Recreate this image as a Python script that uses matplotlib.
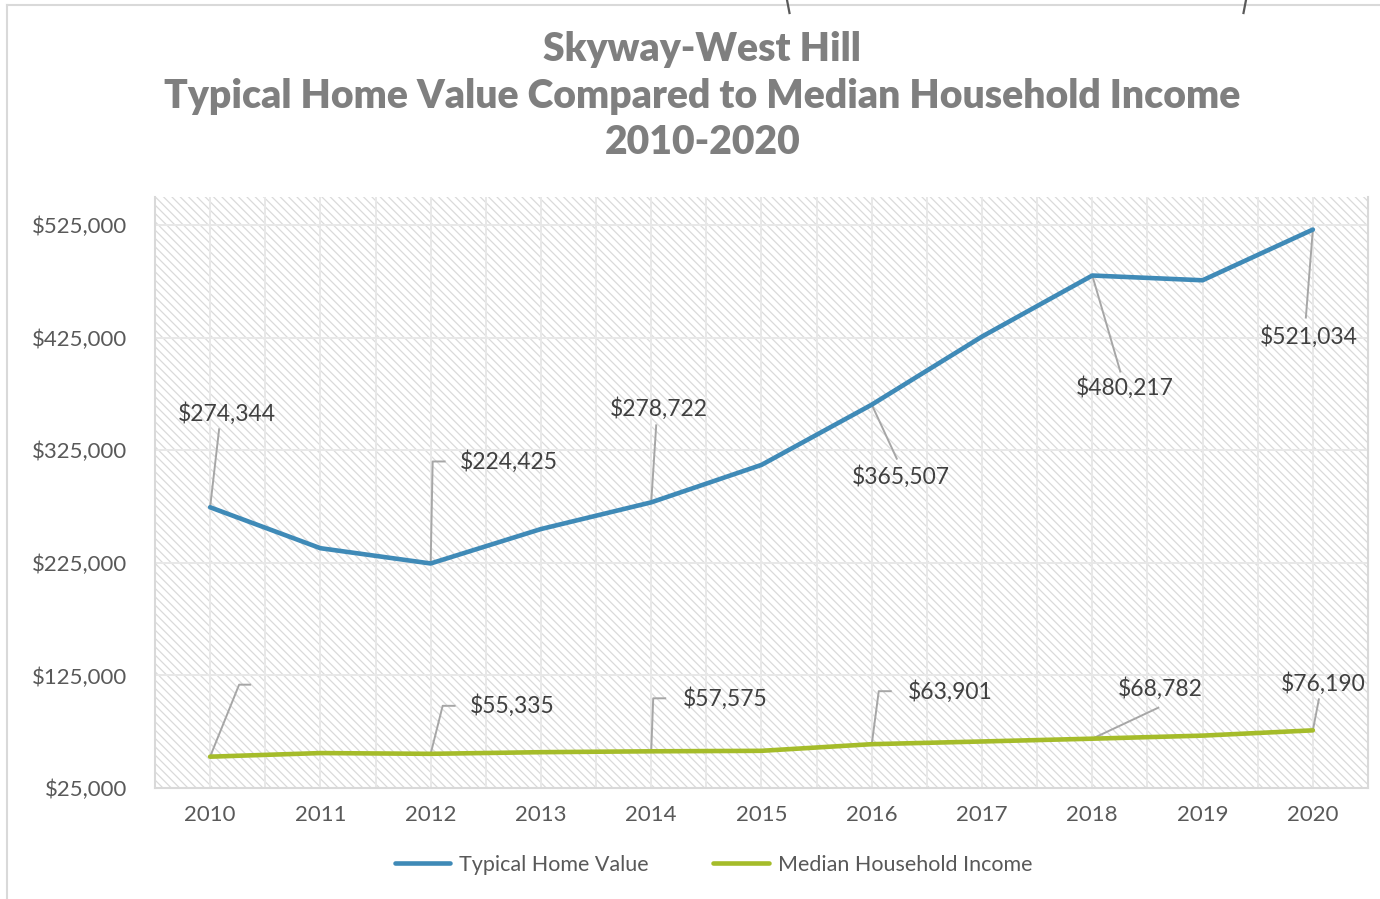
import matplotlib.pyplot as plt
import matplotlib.transforms as mtransforms
from matplotlib.patches import Rectangle
from matplotlib.lines import Line2D
import numpy as np

# data
years = [2010, 2011, 2012, 2013, 2014, 2015, 2016, 2017, 2018, 2019, 2020]
home_value = [274344, 238000, 224425, 255000, 278722, 312000, 365507, 426000, 480217, 476000, 521034]
household_income = [52800, 56000, 55335, 56800, 57575, 58000, 63901, 66300, 68782, 71500, 76190]
label_years = [2010, 2012, 2014, 2016, 2018, 2020]
y_ticks = [25000, 125000, 225000, 325000, 425000, 525000]

BLUE = "#3f8ab7"
GREEN = "#a5bc2a"
TXT = "#404040"
LEAD = "#a6a6a6"

# label placement in screen pixels relative to the point (x right, y down)
home_text_off = [(17, -94), (78, -102), (8, -94), (29, 72), (32, 112), (-4, 107)]
home_leaders = [[(0, 0), (9, -78)],
                [(0, 0), (2, -102), (14, -102)],
                [(0, 0), (5, -77)],
                [(0, 0), (25, 54)],
                [(0, 0), (28, 96)],
                [(0, 0), (-7, 88)]]
inc_text_off = [None, (82, -48), (74, -53), (78, -53), (68, -50), (10, -47)]
inc_leaders = [[(0, 0), (29, -72), (40, -72)],
               [(0, 0), (12, -48), (24, -48)],
               [(0, 0), (2, -53), (14, -53)],
               [(0, 0), (7, -53), (19, -53)],
               [(0, 0), (66, -31)],
               [(0, 0), (6, -31)]]

plt.rcParams['font.family'] = ['Lato', 'DejaVu Sans']
plt.rcParams['hatch.linewidth'] = 0.9

fig = plt.figure(figsize=(13.8, 8.99), dpi=100)
ax = fig.add_axes([0.1123, 0.1235, 0.879, 0.6574])

ax.add_patch(Rectangle((0, 0), 1, 1, transform=ax.transAxes, facecolor='white',
                       edgecolor='#dadada', linewidth=0, hatch='\\\\\\\\', zorder=0))

ax.plot(years, home_value, color=BLUE, lw=3.3, label='Typical Home Value', zorder=3,
        solid_capstyle='round')
ax.plot(years, household_income, color=GREEN, lw=3.3, label='Median Household Income', zorder=3,
        solid_capstyle='round')

ax.set_xlim(2009.5, 2020.5)
ax.set_ylim(25000, 550000)
ax.set_xticks(years)
ax.set_xticks(np.arange(2009.5, 2021, 1.0), minor=True)
ax.set_yticks(y_ticks)
ax.set_yticklabels(['${:,}'.format(v) for v in y_ticks])
ax.grid(True, which='both', axis='x', color='#e8e8e8', lw=1.4, zorder=1)
ax.grid(True, which='major', axis='y', color='#e8e8e8', lw=1.4, zorder=1)
ax.set_axisbelow(True)
ax.tick_params(which='both', length=0)
ax.tick_params(axis='y', labelsize=16, labelcolor='#595959', pad=20)
ax.tick_params(axis='x', labelsize=16, labelcolor='#595959', pad=12)
for s in ['left', 'right', 'bottom']:
    ax.spines[s].set_color('#d9d9d9')
    ax.spines[s].set_linewidth(1.5)
ax.spines['top'].set_visible(False)


def pixel_trans(x, y):
    return mtransforms.Affine2D().scale(1, -1) + mtransforms.ScaledTranslation(x, y, ax.transData)


def draw_labels(values, offsets, leaders):
    for i, yr in enumerate(label_years):
        v = values[years.index(yr)]
        tr = pixel_trans(yr, v)
        pts = leaders[i]
        ax.add_line(Line2D([p[0] for p in pts], [p[1] for p in pts], transform=tr,
                           color=LEAD, lw=1.4, zorder=2, clip_on=False))
        if offsets[i] is not None:
            ax.text(offsets[i][0], offsets[i][1], '${:,}'.format(v), transform=tr,
                    ha='center', va='center', fontsize=16.5, color=TXT, zorder=4)


draw_labels(home_value, home_text_off, home_leaders)
draw_labels(household_income, inc_text_off, inc_leaders)

fig.text(0.509, 0.893, 'Skyway-West Hill\nTypical Home Value Compared to Median Household Income\n2010-2020',
         ha='center', va='center', fontsize=28.2, fontweight='heavy', color='#7f7f7f',
         linespacing=1.32)

fig.legend(loc='center', bbox_to_anchor=(0.517, 1 - 865 / 899), ncol=2, frameon=False,
           fontsize=15.5, labelcolor='#595959', handlelength=2.6, columnspacing=3.0,
           handletextpad=0.4)

# outer chart border, and the clipped brackets of the chart above
fig.add_artist(Line2D([7 / 1380, 7 / 1380], [0, 1 - 5 / 899], transform=fig.transFigure,
                      color='#d9d9d9', lw=1.5))
fig.add_artist(Line2D([7 / 1380, 1], [1 - 5 / 899, 1 - 5 / 899], transform=fig.transFigure,
                      color='#d9d9d9', lw=1.5))
for bx, dx in [(787, 2.5), (1246, -2.5)]:
    fig.add_artist(Line2D([bx / 1380, (bx + dx) / 1380], [1.0, 1 - 13 / 899],
                          transform=fig.transFigure, color='#595959', lw=1.6))

fig.savefig('out.png', dpi=100)
